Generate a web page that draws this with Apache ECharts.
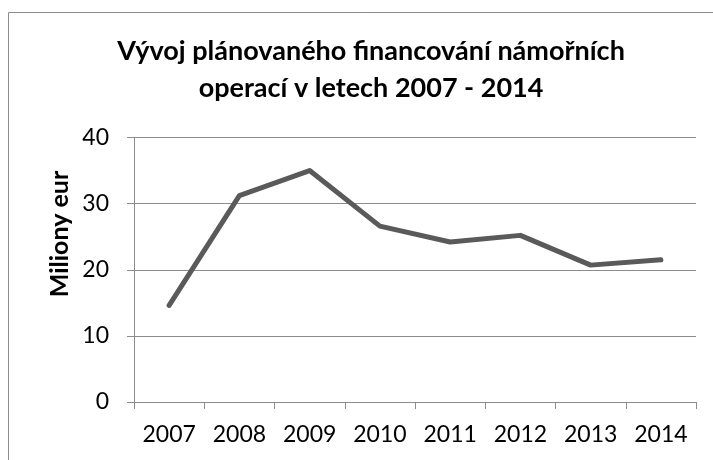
<!DOCTYPE html>
<html>
<head>
<meta charset="utf-8">
<script src="https://cdn.jsdelivr.net/npm/echarts@6/dist/echarts.min.js"></script>
<style>
html,body{margin:0;padding:0;background:#fff;}
#c{width:713px;height:460px;}
</style>
</head>
<body>
<div id="c"></div>
<script>
const titleText = 'Vývoj plánovaného financování námořních\noperací v letech 2007 - 2014';
const yAxisTitle = 'Miliony eur';
const years = ['2007','2008','2009','2010','2011','2012','2013','2014'];
const funding = [14.6, 31.2, 35.0, 26.6, 24.2, 25.2, 20.7, 21.5];
const yTicks = [0, 10, 20, 30, 40];

const chart = echarts.init(document.getElementById('c'), null, {renderer:'canvas'});
const FONT = 'Lato';
chart.setOption({
  animation: false,
  backgroundColor: '#fff',
  title: {
    text: titleText,
    left: 366, top: 28, textAlign: 'center',
    textStyle: {fontFamily: FONT, fontWeight: 'bold', fontSize: 27, lineHeight: 37, color: '#000'}
  },
  graphic: [
    {type:'rect', shape:{x:8.5, y:12.5, width:740, height:480}, style:{fill:'none', stroke:'#8c8c8c', lineWidth:1}, silent:true},
    {type:'text', x:60, y:234, rotation:Math.PI/2, style:{text:yAxisTitle, font:'bold 25px Lato', fill:'#000', align:'center', verticalAlign:'middle'}}
  ],
  grid: {left:134, right:17, top:137.5, bottom:58, containLabel:false},
  xAxis: {
    type:'category', data: years, boundaryGap:true,
    axisLine:{lineStyle:{color:'#8c8c8c', width:1}},
    axisTick:{show:true, length:7, alignWithLabel:false, lineStyle:{color:'#8c8c8c'}},
    axisLabel:{fontFamily:FONT, fontSize:23, color:'#000', margin:21}
  },
  yAxis: {
    type:'value', min:yTicks[0], max:yTicks[yTicks.length-1], interval:10,
    axisLine:{show:true, lineStyle:{color:'#8c8c8c', width:1}},
    axisTick:{show:true, length:7, lineStyle:{color:'#8c8c8c'}},
    axisLabel:{fontFamily:FONT, fontSize:23, color:'#000', margin:25},
    splitLine:{show:true, lineStyle:{color:'#8c8c8c', width:1}}
  },
  series: [{
    type:'line', data: funding, symbol:'none',
    lineStyle:{color:'#5a5a5a', width:5, join:'round', cap:'round'}
  }]
});
</script>
</body>
</html>
